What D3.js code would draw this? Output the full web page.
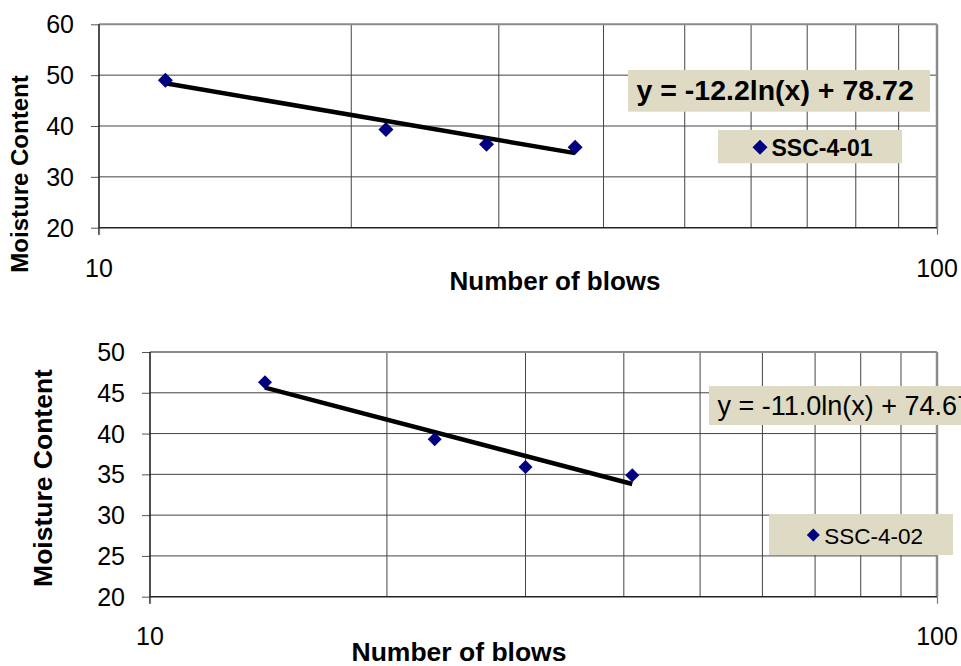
<!DOCTYPE html>
<html>
<head>
<meta charset="utf-8">
<script src="https://cdn.jsdelivr.net/npm/d3@7"></script>
<style>
  html, body { margin: 0; padding: 0; background: #fff; }
  svg { display: block; font-family: "Liberation Sans", Arial, sans-serif; }
</style>
</head>
<body>
<svg id="chart" width="961" height="666"></svg>
<script>
// ---- data ----
const blowsA = [12, 22, 29, 37];
const moistA = [49.0, 39.3, 36.4, 35.8];
const trendA = [-12.2, 78.72];           // y = a ln(x) + b
const nameA = "SSC-4-01";
const eqA = "y = -12.2ln(x) + 78.72";
const yTicksA = [20, 30, 40, 50, 60];

const blowsB = [14, 23, 30, 41];
const moistB = [46.3, 39.3, 35.9, 34.9];
const trendB = [-11.0, 74.67];
const nameB = "SSC-4-02";
const eqB = "y = -11.0ln(x) + 74.67";
const yTicksB = [20, 25, 30, 35, 40, 45, 50];

const xDomain = [10, 100];
const xGrid = [20, 30, 40, 50, 60, 70, 80, 90];
const xTickLabels = [10, 100];
const xTitle = "Number of blows";
const yTitle = "Moisture Content";

const svg = d3.select("#chart");

function drawChart(cfg) {
  const g = svg.append("g");
  const x = d3.scaleLog().domain(xDomain).range([cfg.left, cfg.right]);
  const y = d3.scaleLinear().domain([cfg.yTicks[0], cfg.yTicks[cfg.yTicks.length - 1]])
              .range([cfg.bottom, cfg.top]);

  // horizontal gridlines
  g.append("g").selectAll("line").data(cfg.yTicks.slice(1, -1)).join("line")
    .attr("x1", cfg.left).attr("x2", cfg.right)
    .attr("y1", d => y(d)).attr("y2", d => y(d))
    .attr("stroke", "#444").attr("stroke-width", 1);
  // vertical gridlines
  g.append("g").selectAll("line").data(xGrid).join("line")
    .attr("x1", d => x(d)).attr("x2", d => x(d))
    .attr("y1", cfg.top).attr("y2", cfg.bottom)
    .attr("stroke", "#444").attr("stroke-width", 1);

  // plot-area border (top & right gray)
  g.append("line").attr("x1", cfg.left).attr("x2", cfg.right)
    .attr("y1", cfg.top).attr("y2", cfg.top)
    .attr("stroke", "#8c8c8c").attr("stroke-width", 2);
  g.append("line").attr("x1", cfg.right).attr("x2", cfg.right)
    .attr("y1", cfg.top).attr("y2", cfg.bottom)
    .attr("stroke", "#8c8c8c").attr("stroke-width", 2.5);

  // y axis
  const yAxis = d3.axisLeft(y).tickValues(cfg.yTicks).tickSize(8).tickFormat("");
  const ya = g.append("g").attr("transform", `translate(${cfg.left},0)`).call(yAxis);
  ya.select(".domain").remove();
  ya.selectAll(".tick line").attr("stroke", "#555").attr("stroke-width", 1);
  g.append("line").attr("x1", cfg.left).attr("x2", cfg.left)
    .attr("y1", cfg.top).attr("y2", cfg.bottom + 7)
    .attr("stroke", "#222").attr("stroke-width", 1.6);
  g.selectAll(".ylab").data(cfg.yTicks).join("text").attr("class", "ylab")
    .attr("x", cfg.yLabelX).attr("y", d => y(d)).attr("dy", "0.36em")
    .attr("text-anchor", "end").attr("font-size", cfg.tickFont)
    .attr("fill", "#000").text(d => d);

  // x axis
  const xAxis = d3.axisBottom(x).tickValues(xTickLabels).tickSize(7).tickFormat("");
  const xa = g.append("g").attr("transform", `translate(0,${cfg.bottom})`).call(xAxis);
  xa.select(".domain").remove();
  xa.selectAll(".tick line").attr("stroke", "#777").attr("stroke-width", 1.2);
  g.append("line").attr("x1", cfg.left).attr("x2", cfg.right)
    .attr("y1", cfg.bottom).attr("y2", cfg.bottom)
    .attr("stroke", "#222").attr("stroke-width", 1.6);
  g.selectAll(".xlab").data(xTickLabels).join("text").attr("class", "xlab")
    .attr("x", d => x(d)).attr("y", cfg.xLabelY)
    .attr("text-anchor", "middle").attr("font-size", cfg.tickFont)
    .attr("fill", "#000").text(d => d);

  // axis titles
  g.append("text").attr("x", cfg.xTitleX).attr("y", cfg.xTitleY)
    .attr("text-anchor", "middle").attr("font-weight", "bold")
    .attr("font-size", cfg.xTitleFont).text(xTitle);
  g.append("text")
    .attr("transform", `translate(${cfg.yTitleX},${cfg.yTitleY}) rotate(-90)`)
    .attr("text-anchor", "middle").attr("font-weight", "bold")
    .attr("font-size", cfg.yTitleFont).text(yTitle);

  // trendline
  const xs = d3.extent(cfg.blows);
  const trendPts = xs.map(v => [v, cfg.trend[0] * Math.log(v) + cfg.trend[1]]);
  g.append("path")
    .attr("d", d3.line().x(d => x(d[0])).y(d => y(d[1]))(trendPts))
    .attr("stroke", "#000").attr("stroke-width", 4.5).attr("fill", "none");

  // markers
  const diamond = r => `M0,${-r}L${r},0L0,${r}L${-r},0Z`;
  g.selectAll(".pt").data(cfg.blows.map((b, i) => [b, cfg.moist[i]])).join("path")
    .attr("class", "pt")
    .attr("transform", d => `translate(${x(d[0])},${y(d[1])})`)
    .attr("d", diamond(cfg.markR)).attr("fill", "#000080");

  // equation label
  const eb = cfg.eqBox;
  g.append("rect").attr("x", eb[0]).attr("y", eb[1]).attr("width", eb[2]).attr("height", eb[3])
    .attr("fill", "#dedac4");
  g.append("text").attr("x", cfg.eqText[0]).attr("y", cfg.eqText[1])
    .attr("font-size", cfg.eqFont).attr("font-weight", cfg.bold ? "bold" : "normal")
    .text(cfg.eq);

  // legend
  const lb = cfg.legBox;
  g.append("rect").attr("x", lb[0]).attr("y", lb[1]).attr("width", lb[2]).attr("height", lb[3])
    .attr("fill", "#dedac4");
  g.append("path").attr("transform", `translate(${cfg.legMark[0]},${cfg.legMark[1]})`)
    .attr("d", diamond(cfg.legMark[2])).attr("fill", "#000080");
  g.append("text").attr("x", cfg.legText[0]).attr("y", cfg.legText[1])
    .attr("font-size", cfg.legFont).attr("font-weight", cfg.bold ? "bold" : "normal")
    .text(cfg.name);
}

drawChart({
  blows: blowsA, moist: moistA, trend: trendA, name: nameA, eq: eqA, yTicks: yTicksA,
  left: 99, right: 937, top: 24.3, bottom: 227.7,
  yLabelX: 74, xLabelY: 277, tickFont: 25,
  xTitleX: 555, xTitleY: 290, xTitleFont: 26,
  yTitleX: 27.5, yTitleY: 174, yTitleFont: 24,
  markR: 7.5, bold: true,
  eqBox: [628, 70, 302, 41.7], eqText: [636.5, 100], eqFont: 28.5,
  legBox: [718, 130, 184, 33.3], legMark: [760, 147.3, 7.5], legText: [771.5, 155.7], legFont: 23
});

drawChart({
  blows: blowsB, moist: moistB, trend: trendB, name: nameB, eq: eqB, yTicks: yTicksB,
  left: 150, right: 937, top: 352, bottom: 596.7,
  yLabelX: 125, xLabelY: 645, tickFont: 25,
  xTitleX: 459, xTitleY: 661, xTitleFont: 26.5,
  yTitleX: 51.5, yTitleY: 478, yTitleFont: 26.5,
  markR: 7, bold: false,
  eqBox: [709, 386, 260, 39], eqText: [717.5, 415], eqFont: 27,
  legBox: [769, 514, 184, 41], legMark: [813.3, 535, 6.5], legText: [824.3, 543.5], legFont: 22.5
});
</script>
</body>
</html>
